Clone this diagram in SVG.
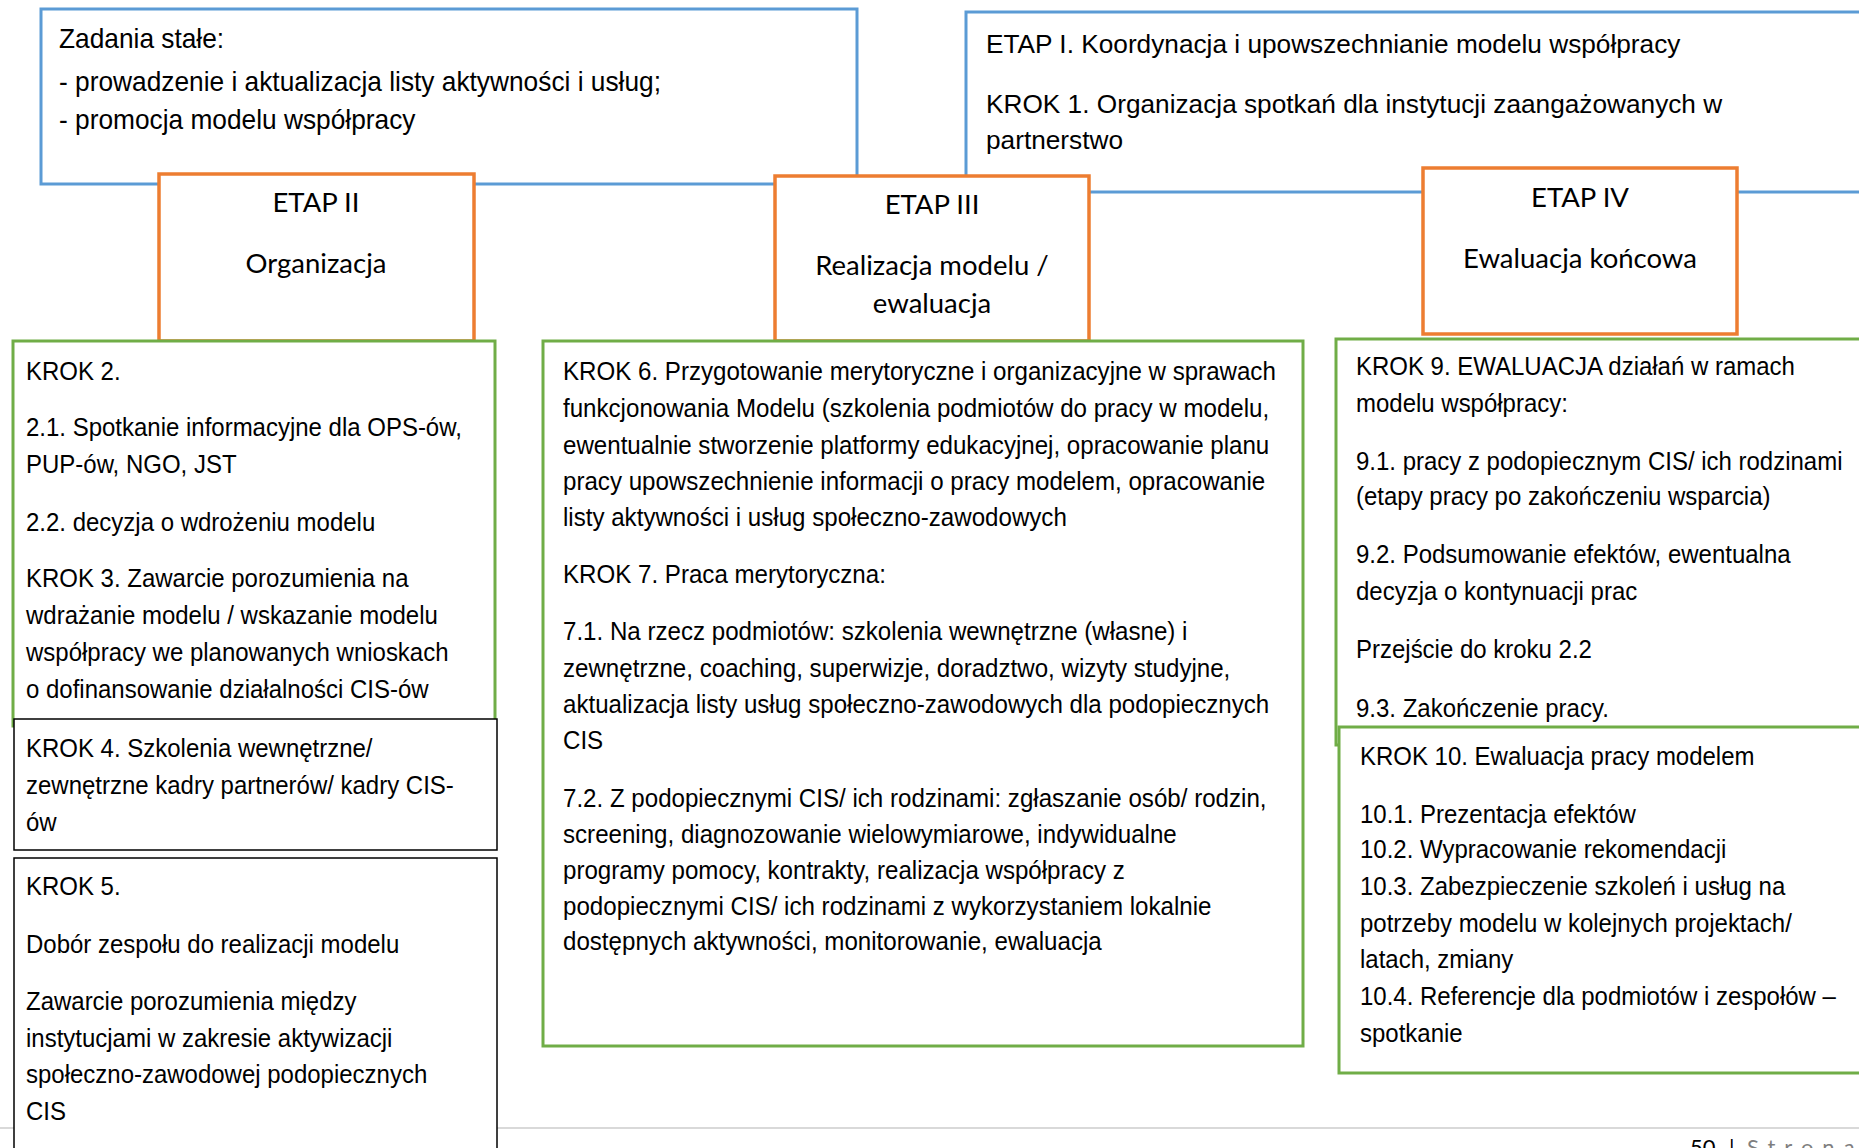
<svg xmlns="http://www.w3.org/2000/svg" width="1859" height="1148" viewBox="0 0 1859 1148">
<style>
.bg{fill:#fff}
.blue{fill:#fff;stroke:#5B9BD5;stroke-width:3}
.orange{fill:#fff;stroke:#ED7D31;stroke-width:3.5}
.green{fill:#fff;stroke:#70AD47;stroke-width:3}
.black{fill:#fff;stroke:#000;stroke-width:1.5}
.t{font-family:"Liberation Sans",Arial,sans-serif;font-size:26px;fill:#000}
.n{font-family:"Liberation Sans",Arial,sans-serif;font-size:27px;fill:#000}
.k{font-family:"Liberation Sans",Arial,sans-serif;font-size:26.5px;fill:#000}
.e{font-family:Lato,"Open Sans",sans-serif;font-size:27.5px;fill:#000;text-anchor:middle}
.f{font-family:Lato,"Open Sans",sans-serif;font-size:22px}
</style>
<rect class="bg" x="0" y="0" width="1859" height="1148"/>
<g id="zadania">
<rect class="blue" x="41" y="9" width="816" height="175"/>
<g transform="translate(59,0) scale(0.974,1)">
<text class="n" x="0" y="48">Zadania stałe:</text>
<text class="n" x="0" y="91">- prowadzenie i aktualizacja listy aktywności i usług;</text>
<text class="n" x="0" y="129">- promocja modelu współpracy</text>
</g>
</g>
<g id="etap1">
<rect class="blue" x="966" y="12" width="900" height="180"/>
<g transform="translate(986,0) scale(0.99,1)">
<text class="n" style="font-size:26.5px" x="0" y="53">ETAP I. Koordynacja i upowszechnianie modelu współpracy</text>
<text class="n" style="font-size:26.5px" x="0" y="113">KROK 1. Organizacja spotkań dla instytucji zaangażowanych w</text>
<text class="n" style="font-size:26.5px" x="0" y="149">partnerstwo</text>
</g>
</g>
<g id="etap2">
<rect class="orange" x="159" y="174" width="315" height="167"/>
<text class="e" x="316" y="212">ETAP II</text>
<text class="e" x="316" y="273">Organizacja</text>
</g>
<g id="etap3">
<rect class="orange" x="775" y="176" width="314" height="165"/>
<text class="e" x="932" y="214">ETAP III</text>
<text class="e" x="932" y="275">Realizacja modelu /</text>
<text class="e" x="932" y="313">ewaluacja</text>
</g>
<g id="etap4">
<rect class="orange" x="1423" y="168" width="314" height="166"/>
<text class="e" x="1580" y="207">ETAP IV</text>
<text class="e" x="1580" y="268">Ewaluacja końcowa</text>
</g>
<g id="krok2">
<rect class="green" x="13" y="341" width="482" height="385"/>
<g transform="translate(26,0) scale(0.923,1)">
<text class="t" x="0" y="380">KROK 2.</text>
<text class="t" x="0" y="436">2.1. Spotkanie informacyjne dla OPS-ów,</text>
<text class="t" x="0" y="473">PUP-ów, NGO, JST</text>
<text class="t" x="0" y="531">2.2. decyzja o wdrożeniu modelu</text>
<text class="t" x="0" y="587">KROK 3. Zawarcie porozumienia na</text>
<text class="t" x="0" y="624">wdrażanie modelu / wskazanie modelu</text>
<text class="t" x="0" y="661">współpracy we planowanych wnioskach</text>
<text class="t" x="0" y="698">o dofinansowanie działalności CIS-ów</text>
</g>
</g>
<g id="krok4">
<rect class="black" x="14" y="719" width="483" height="131"/>
<g transform="translate(26,0) scale(0.923,1)">
<text class="t" x="0" y="757">KROK 4. Szkolenia wewnętrzne/</text>
<text class="t" x="0" y="794">zewnętrzne kadry partnerów/ kadry CIS-</text>
<text class="t" x="0" y="831">ów</text>
</g>
</g>
<line x1="0" y1="1128" x2="1859" y2="1128" stroke="#d9d9d9" stroke-width="2"/>
<g id="krok5">
<rect class="black" x="14" y="858" width="483" height="300"/>
<g transform="translate(26,0) scale(0.923,1)">
<text class="t" x="0" y="895">KROK 5.</text>
<text class="t" x="0" y="953">Dobór zespołu do realizacji modelu</text>
<text class="t" x="0" y="1010">Zawarcie porozumienia między</text>
<text class="t" x="0" y="1047">instytucjami w zakresie aktywizacji</text>
<text class="t" x="0" y="1083">społeczno-zawodowej podopiecznych</text>
<text class="t" x="0" y="1120">CIS</text>
</g>
</g>
<g id="krok6">
<rect class="green" x="543" y="341" width="760" height="705"/>
<g transform="translate(563,0) scale(0.91,1)">
<text class="k" x="0" y="380">KROK 6. Przygotowanie merytoryczne i organizacyjne w sprawach</text>
<text class="k" x="0" y="417">funkcjonowania Modelu (szkolenia podmiotów do pracy w modelu,</text>
<text class="k" x="0" y="454">ewentualnie stworzenie platformy edukacyjnej, opracowanie planu</text>
<text class="k" x="0" y="490">pracy upowszechnienie informacji o pracy modelem, opracowanie</text>
<text class="k" x="0" y="526">listy aktywności i usług społeczno-zawodowych</text>
<text class="k" x="0" y="583">KROK 7. Praca merytoryczna:</text>
<text class="k" x="0" y="640">7.1. Na rzecz podmiotów: szkolenia wewnętrzne (własne) i</text>
<text class="k" x="0" y="677">zewnętrzne, coaching, superwizje, doradztwo, wizyty studyjne,</text>
<text class="k" x="0" y="713">aktualizacja listy usług społeczno-zawodowych dla podopiecznych</text>
<text class="k" x="0" y="749">CIS</text>
<text class="k" x="0" y="807">7.2. Z podopiecznymi CIS/ ich rodzinami: zgłaszanie osób/ rodzin,</text>
<text class="k" x="0" y="843">screening, diagnozowanie wielowymiarowe, indywidualne</text>
<text class="k" x="0" y="879">programy pomocy, kontrakty, realizacja współpracy z</text>
<text class="k" x="0" y="915">podopiecznymi CIS/ ich rodzinami z wykorzystaniem lokalnie</text>
<text class="k" x="0" y="950">dostępnych aktywności, monitorowanie, ewaluacja</text>
</g>
</g>
<g id="krok9">
<rect class="green" x="1336" y="339" width="540" height="406"/>
<g transform="translate(1356,0) scale(0.923,1)">
<text class="t" x="0" y="375">KROK 9. EWALUACJA działań w ramach</text>
<text class="t" x="0" y="412">modelu współpracy:</text>
<text class="t" x="0" y="470">9.1. pracy z podopiecznym CIS/ ich rodzinami</text>
<text class="t" x="0" y="505">(etapy pracy po zakończeniu wsparcia)</text>
<text class="t" x="0" y="563">9.2. Podsumowanie efektów, ewentualna</text>
<text class="t" x="0" y="600">decyzja o kontynuacji prac</text>
<text class="t" x="0" y="658">Przejście do kroku 2.2</text>
<text class="t" x="0" y="717">9.3. Zakończenie pracy.</text>
</g>
</g>
<g id="krok10">
<rect class="green" x="1339" y="727" width="540" height="346"/>
<g transform="translate(1360,0) scale(0.923,1)">
<text class="t" x="0" y="765">KROK 10. Ewaluacja pracy modelem</text>
<text class="t" x="0" y="823">10.1. Prezentacja efektów</text>
<text class="t" x="0" y="858">10.2. Wypracowanie rekomendacji</text>
<text class="t" x="0" y="895">10.3. Zabezpieczenie szkoleń i usług na</text>
<text class="t" x="0" y="932">potrzeby modelu w kolejnych projektach/</text>
<text class="t" x="0" y="968">latach, zmiany</text>
<text class="t" x="0" y="1005">10.4. Referencje dla podmiotów i zespołów –</text>
<text class="t" x="0" y="1042">spotkanie</text>
</g>
</g>
<g id="connectors"></g>
<g id="footer">
<text class="f" x="1690" y="1155" fill="#000">50</text>
<text class="f" x="1729" y="1155" fill="#000">|</text>
<text class="f" x="1747" y="1155" fill="#7f7f7f" letter-spacing="9">Strona</text>
</g>
</svg>
